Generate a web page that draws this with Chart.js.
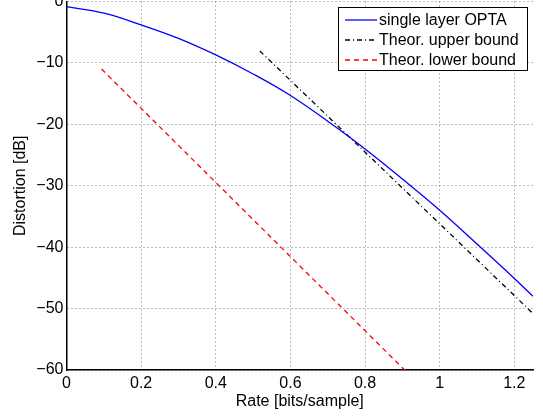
<!DOCTYPE html>
<html>
<head>
<meta charset="utf-8">
<script src="https://cdn.jsdelivr.net/npm/chart.js@4.4.1/dist/chart.umd.min.js"></script>
<style>
  html, body { margin: 0; padding: 0; background: #fff; }
  canvas { display: block; }
</style>
</head>
<body>
<canvas id="rdChart" width="543" height="417"></canvas>
<script>
// values
const rate = [0, 0.1, 0.2, 0.3, 0.4, 0.5, 0.6, 0.7, 0.8, 0.9, 1.0, 1.1, 1.2, 1.25];
const optaDist = [-0.85, -1.9, -3.8, -6.0, -8.7, -11.8, -15.3, -19.5, -24.0, -28.9, -34.0, -39.5, -45.1, -48.0];

const upperRate = [0.518, 1.25];
const upperDist = [-8.05, -50.8];

const lowerRate = [0.094, 0.906];
const lowerDist = [-11.0, -60];

const xTicks = [0, 0.2, 0.4, 0.6, 0.8, 1.0, 1.2];
const yTicks = [-60, -50, -40, -30, -20, -10, 0];

const FONT = 'Liberation Sans, Arial, Helvetica, sans-serif';

function pts(xs, ys) {
    return xs.map((x, i) => ({ x: x, y: ys[i] }));
}

function fmt(v) {
    return String(+v.toFixed(2)).replace('-', '\u2212');
}

// matlab style legend box in the top right corner
const boxLegend = {
    id: 'boxLegend',
    afterDraw(chart) {
        const c = chart.ctx;
        const x0 = 338.5, y0 = 7.5, w = 189, h = 63;
        c.save();
        c.fillStyle = '#fff';
        c.fillRect(x0, y0, w, h);
        c.strokeStyle = '#000';
        c.lineWidth = 1;
        c.strokeRect(x0, y0, w, h);
        c.font = '16px ' + FONT;
        c.textBaseline = 'middle';
        chart.data.datasets.forEach((ds, i) => {
            const y = y0 + 12.5 + i * 20;
            c.strokeStyle = ds.borderColor;
            c.lineWidth = ds.borderWidth;
            c.setLineDash(ds.borderDash || []);
            c.beginPath();
            c.moveTo(345, y);
            c.lineTo(377, y);
            c.stroke();
            c.setLineDash([]);
            c.fillStyle = '#000';
            c.fillText(ds.label, 379, y + 1);
        });
        c.restore();
    }
};

const ctx = document.getElementById('rdChart').getContext('2d');

const chart = new Chart(ctx, {
    type: 'line',
    data: {
        datasets: [
            {
                label: 'single layer OPTA',
                data: pts(rate, optaDist),
                borderColor: '#0000ff',
                borderWidth: 1.3,
                pointRadius: 0,
                tension: 0.4,
                fill: false
            },
            {
                label: 'Theor. upper bound',
                data: pts(upperRate, upperDist),
                borderColor: '#000000',
                borderWidth: 1.3,
                borderDash: [5, 3, 1, 3],
                pointRadius: 0,
                fill: false
            },
            {
                label: 'Theor. lower bound',
                data: pts(lowerRate, lowerDist),
                borderColor: '#ff0000',
                borderWidth: 1.3,
                borderDash: [5, 4],
                pointRadius: 0,
                fill: false
            }
        ]
    },
    options: {
        responsive: false,
        animation: false,
        layout: { padding: { top: 1.5, right: 10, left: 0, bottom: 0 } },
        plugins: {
            legend: { display: false },
            tooltip: { enabled: false }
        },
        scales: {
            x: {
                type: 'linear',
                min: 0,
                max: 1.25,
                afterBuildTicks: s => { s.ticks = xTicks.map(v => ({ value: v })); },
                afterFit: s => { s.height = 47; s.paddingLeft = 0; s.paddingRight = 0; },
                grid: { color: '#777', lineWidth: 1, drawTicks: false },
                border: { color: '#000', width: 1.5, dash: [1, 3] },
                ticks: {
                    color: '#000',
                    font: { family: FONT, size: 16 },
                    padding: 4,
                    maxRotation: 0,
                    callback: v => fmt(v)
                },
                title: {
                    display: true,
                    text: 'Rate [bits/sample]',
                    color: '#000',
                    font: { family: FONT, size: 16 },
                    padding: { top: 0, bottom: 6 }
                }
            },
            y: {
                min: -60,
                max: 0,
                afterBuildTicks: s => { s.ticks = yTicks.map(v => ({ value: v })); },
                afterFit: s => { s.width = 66.5; s.paddingTop = 0; s.paddingBottom = 0; },
                grid: { color: '#777', lineWidth: 1, drawTicks: false },
                border: { color: '#000', width: 1.5, dash: [1, 3] },
                ticks: {
                    color: '#000',
                    font: { family: FONT, size: 16 },
                    padding: 3,
                    callback: v => fmt(v)
                },
                title: {
                    display: true,
                    text: 'Distortion [dB]',
                    color: '#000',
                    font: { family: FONT, size: 16 },
                    padding: { top: 11, bottom: 0 }
                }
            }
        }
    },
    plugins: [boxLegend]
});
</script>
</body>
</html>
